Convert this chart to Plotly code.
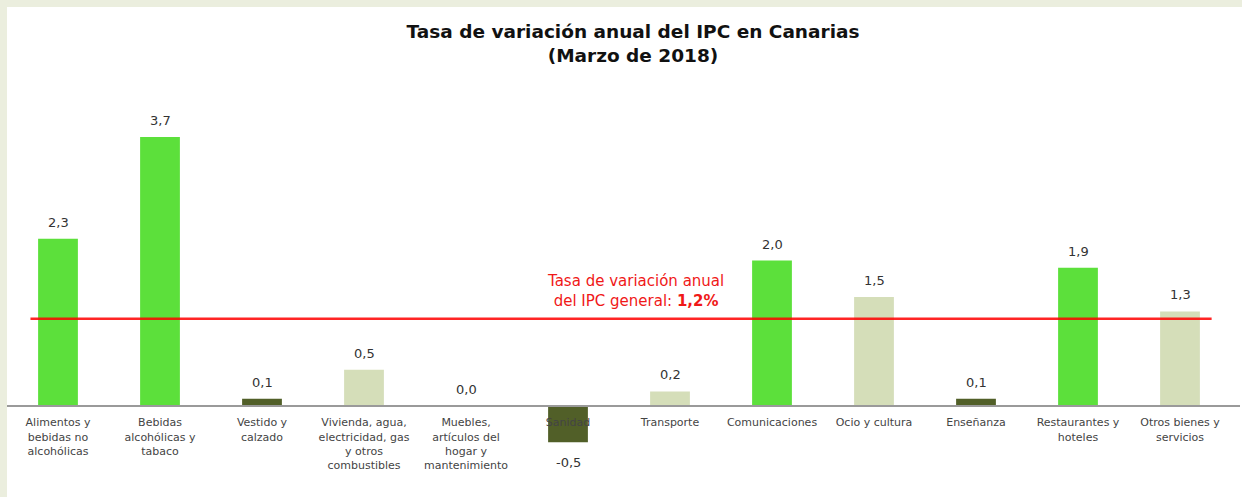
import plotly.graph_objects as go

categories = [
    "Alimentos y<br>bebidas no<br>alcohólicas",
    "Bebidas<br>alcohólicas y<br>tabaco",
    "Vestido y<br>calzado",
    "Vivienda, agua,<br>electricidad, gas<br>y otros<br>combustibles",
    "Muebles,<br>artículos del<br>hogar y<br>mantenimiento",
    "Sanidad",
    "Transporte",
    "Comunicaciones",
    "Ocio y cultura",
    "Enseñanza",
    "Restaurantes y<br>hoteles",
    "Otros bienes y<br>servicios",
]
values = [2.3, 3.7, 0.1, 0.5, 0.0, -0.5, 0.2, 2.0, 1.5, 0.1, 1.9, 1.3]
general_rate = 1.2

GREEN = "#5CE03B"
DARK = "#515F28"
LIGHT = "#D5DEB9"
bar_colors = [GREEN, GREEN, DARK, LIGHT, DARK, DARK, LIGHT, GREEN, LIGHT, DARK, GREEN, LIGHT]

xs = list(range(len(categories)))

# pixel geometry helpers
H = 497
T, B = 90, 7
ppu = 72.7
zero_px = 406
ymax = (zero_px - T) / ppu
ymin = -((H - B) - zero_px) / ppu
plot_h = H - T - B

fig = go.Figure()
fig.add_trace(go.Bar(
    x=xs, y=values, marker_color=bar_colors, width=0.39,
    marker_line_width=0, hoverinfo="skip",
))

def fmt(v):
    return f"{v:.1f}".replace(".", ",")

for x, v in zip(xs, values):
    fig.add_annotation(
        x=x, y=v, text=fmt(v), showarrow=False,
        yanchor="bottom" if v >= 0 else "top",
        yshift=7 if v >= 0 else -11,
        font=dict(family="DejaVu Sans", size=13, color="#333333"),
    )

# red reference line
fig.add_shape(type="line", xref="x", yref="y", x0=-0.27, x1=11.31,
              y0=general_rate, y1=general_rate,
              line=dict(color="#FF0000", width=2.5), opacity=0.85, layer="above")
fig.add_annotation(
    x=5.66, y=general_rate, yshift=7, yanchor="bottom", showarrow=False,
    text="Tasa de variación anual<br>del IPC general: <b>" + fmt(general_rate) + "%</b>",
    font=dict(family="DejaVu Sans", size=15, color="#F01818"),
    align="center",
)

# white panel over beige border
fig.add_shape(type="rect", xref="paper", yref="paper",
              x0=0, x1=1.01, y0=-0.03, y1=(H - B - 7) / plot_h,
              fillcolor="white", line_width=0, layer="below")

fig.update_layout(
    width=1242, height=H,
    margin=dict(l=7, r=2, t=T, b=B),
    paper_bgcolor="#EBEEDE",
    plot_bgcolor="white",
    showlegend=False,
    bargap=0.6,
    title=dict(
        text="Tasa de variación anual del IPC en Canarias<br>(Marzo de 2018)",
        x=(633 - 7) / 1233, xref="paper", xanchor="center",
        y=1 - 38 / H, yref="container", yanchor="top",
        font=dict(family="DejaVu Sans", size=18.5, color="#111111", weight="bold"),
    ),
    xaxis=dict(
        range=[-0.5, (1240 - 58) / 102],
        tickvals=xs, ticktext=categories,
        anchor="free", position=(-ymin) / (ymax - ymin),
        showline=True, linecolor="#9A9A9A", linewidth=2,
        ticks="", showgrid=False, zeroline=False,
        tickfont=dict(family="DejaVu Sans", size=11, color="#444444"),
        ticklabelstandoff=6,
    ),
    yaxis=dict(
        range=[ymin, ymax], visible=False, showgrid=False, zeroline=False,
    ),
)

fig.write_html("out.html", config={"displayModeBar": False},
               post_script="document.body.style.margin='0';")
